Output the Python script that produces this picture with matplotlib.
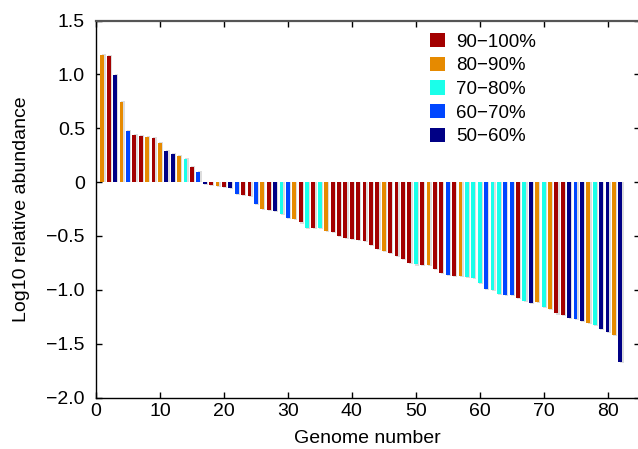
import numpy as np
import matplotlib
matplotlib.use('Agg')
import matplotlib.pyplot as plt
from matplotlib.patches import Patch

plt.rcParams['font.family'] = ['Liberation Sans', 'DejaVu Sans']

# identity classes of each genome (R=90-100, O=80-90, C=70-80, B=60-70, N=50-60)
classes = list("ORNOBRRORONNOCRBNRORNBRRBORNCBORCRCORRRRRRRRORRRRCRORRBROCCCBCCBBRCNOCORRNBNOCNNON")
values = [1.18, 1.17, 0.99, 0.74, 0.47, 0.44, 0.43, 0.42, 0.41, 0.36,
          0.29, 0.26, 0.24, 0.21, 0.14, 0.09, -0.02, -0.03, -0.04, -0.047,
          -0.056, -0.11, -0.12, -0.13, -0.20, -0.25, -0.26, -0.27, -0.30, -0.33,
          -0.34, -0.375, -0.43, -0.425, -0.43, -0.455, -0.465, -0.50, -0.52, -0.525,
          -0.54, -0.55, -0.585, -0.62, -0.64, -0.66, -0.69, -0.71, -0.75, -0.765,
          -0.77, -0.77, -0.81, -0.84, -0.865, -0.87, -0.875, -0.88, -0.89, -0.94,
          -0.99, -1.00, -1.04, -1.045, -1.05, -1.08, -1.105, -1.12, -1.11, -1.16,
          -1.18, -1.22, -1.235, -1.26, -1.27, -1.29, -1.31, -1.33, -1.36, -1.39,
          -1.42, -1.67]

class_keys = ['R', 'O', 'C', 'B', 'N']
class_labels = ['90\u2212100%', '80\u221290%', '70\u221280%', '60\u221270%', '50\u221260%']
class_colors = {'R': '#A30000', 'O': '#E68A00', 'C': '#1AFFEA', 'B': '#0046FF', 'N': '#000085'}

genome = np.arange(1, len(values) + 1)
vals = np.array(values)
cols = [class_colors[c] for c in classes]

fig = plt.figure(figsize=(6.38, 4.49), dpi=100)
ax = fig.add_axes([96 / 638, 1 - 397.5 / 449, 543.5 / 638, 377 / 449])

# light grey shadow behind each bar
shadow = vals + np.sign(vals) * 0.01
ax.bar(genome + 0.2, shadow, width=0.6, color='#dddddd', zorder=1)
ax.bar(genome, vals, width=0.6, color=cols, zorder=2)

ax.set_xlim(0, 85)
ax.set_ylim(-2.0, 1.5)
ax.set_xticks(np.arange(0, 81, 10))
ax.set_yticks([1.5, 1.0, 0.5, 0, -0.5, -1.0, -1.5, -2.0])
ax.set_yticklabels(['1.5', '1.0', '0.5', '0', '\u22120.5', '\u22121.0', '\u22121.5', '\u22122.0'])
ax.tick_params(direction='in', top=True, right=True, length=4, width=1, labelsize=14)
ax.tick_params(axis='x', pad=4)
ax.tick_params(axis='y', pad=8)
for s in ax.spines.values():
    s.set_linewidth(1.0)
ax.spines['top'].set_color('#555555')
ax.spines['top'].set_linewidth(1.6)

ax.set_xlabel('Genome number', fontsize=14, labelpad=7)
ax.set_ylabel('Log10 relative abundance', fontsize=14, labelpad=12)

handles = [Patch(facecolor=class_colors[k], edgecolor='none') for k in class_keys]
ax.legend(handles, class_labels, loc='upper left', bbox_to_anchor=(430 / 638, 1 - 33 / 449),
          bbox_transform=fig.transFigure, frameon=False, fontsize=13.5,
          handlelength=0.8, handleheight=0.8, handletextpad=0.6,
          labelspacing=0.32, borderpad=0, borderaxespad=0)

fig.savefig('out.png', dpi=100)
